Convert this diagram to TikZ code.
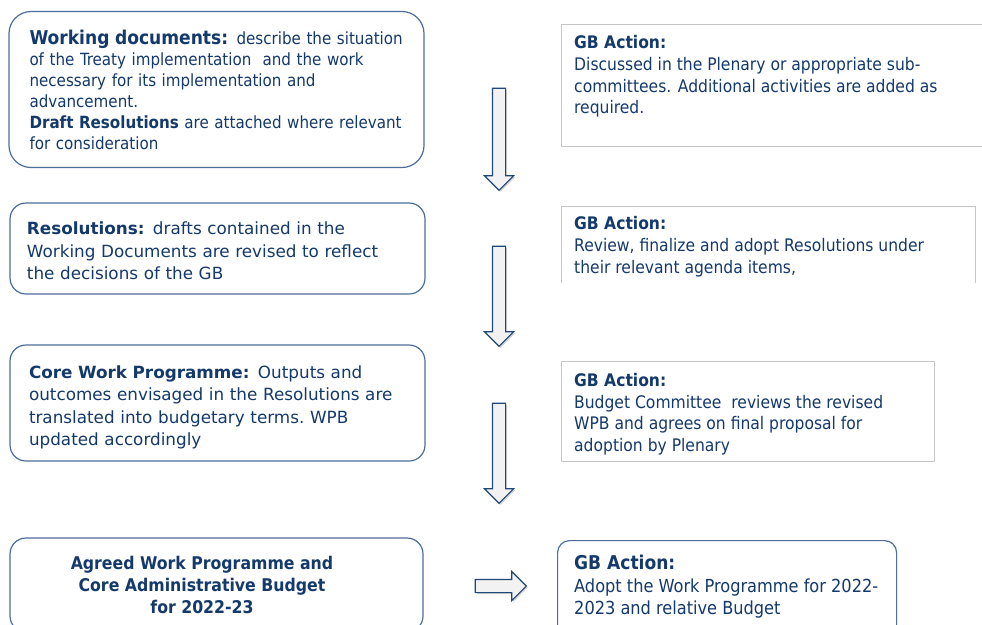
\documentclass[tikz,border=0pt]{standalone}
\usepackage{fontspec}
\setmainfont{DejaVu Sans}
\newfontfamily\condfont{DejaVu Sans Condensed}
\usetikzlibrary{positioning,shapes.arrows,shadows}

\definecolor{txtblue}{HTML}{14396B}
\definecolor{boxblue}{HTML}{4D6E9B}
\definecolor{gbgray}{HTML}{C6C6C6}
\definecolor{arrblue}{HTML}{1F4777}
\definecolor{arrfill}{HTML}{F2F2F2}

\tikzset{
  docbox/.style={draw=boxblue, line width=1.2pt, rounded corners=16pt, text=txtblue,
    align=left, inner xsep=18pt, inner ysep=0pt},
  gbtext/.style={text=txtblue, align=left, inner sep=0pt, anchor=north west,
    font=\condfont\fontsize{17.3}{21.7}\selectfont},
  gbframe/.style={draw=gbgray, line width=0.9pt},
  flowarrow/.style={single arrow, draw=arrblue, fill=arrfill, line width=1.1pt,
    inner sep=6pt, single arrow head extend=8pt, single arrow head indent=0pt,
    drop shadow={shadow xshift=1.5pt, shadow yshift=-1.5pt, opacity=0.35}},
}

\begin{document}
\begin{tikzpicture}[x=1pt,y=-1pt]
\clip (0,0) rectangle (982,624);
\fill[white] (0,0) rectangle (982,624);

% left column
\node[docbox, rounded corners=22pt, minimum width=415pt, minimum height=156pt,
  text width=374pt, inner xsep=20.5pt, font=\condfont\fontsize{16.8}{21}\selectfont] (wdocs) at (216.5,89.5)
  {{\fontsize{19}{21}\selectfont\bfseries Working documents:} describe the situation\\
   of the Treaty implementation\ \ and the work\\
   necessary for its implementation and\\
   advancement.\\
   \textbf{Draft Resolutions} are attached where relevant\\
   for consideration};
\node[docbox, minimum width=415pt, minimum height=91pt, text width=381pt,
  inner xsep=17pt, font=\fontsize{16.8}{22.6}\selectfont] (resol) at (217.5,248.5)
  {\rule{0pt}{18pt}\textbf{Resolutions:} drafts contained in the\\
   Working Documents are revised to reflect\\
   the decisions of the GB};
\node[docbox, minimum width=415pt, minimum height=116pt, text width=377pt,
  inner xsep=19pt, font=\fontsize{16.8}{22.6}\selectfont] (corewp) at (217.5,403)
  {\rule{0pt}{21.5pt}\textbf{Core Work Programme:} Outputs and\\
   outcomes envisaged in the Resolutions are\\
   translated into budgetary terms.\ WPB\\
   updated accordingly};
\node[docbox, minimum width=413pt, minimum height=94pt] (agreed) at (216.5,585) {};
\node[text=txtblue, align=center, xshift=-14.5pt,
  font=\condfont\bfseries\fontsize{17.5}{22}\selectfont] (agreedtxt) at (agreed)
  {Agreed Work Programme and\\
   Core Administrative Budget\\
   for 2022-23};

% right column
\draw[gbframe] (992,24) -- (561,24) -- (561,146) -- (992,146);
\node[gbtext] (gbone) at (574,35.5)
  {\textbf{GB Action:}\\
   Discussed in the Plenary or appropriate sub-\\
   committees. Additional activities are added as\\
   required.};
\draw[gbframe] (561,283) -- (561,206) -- (975,206) -- (975,283);
\node[gbtext] (gbtwo) at (574,216.5)
  {\textbf{GB Action:}\\
   Review, finalize and adopt Resolutions under\\
   their relevant agenda items,};
\draw[gbframe] (561,361) rectangle (934,461);
\node[gbtext] (gbthree) at (574,373)
  {\textbf{GB Action:}\\
   Budget Committee\ \ reviews the revised\\
   WPB and agrees on final proposal for\\
   adoption by Plenary};
\node[docbox, rounded corners=12pt, anchor=north west, minimum width=339pt,
  minimum height=100pt] (gbfour) at (557,540) {};
\node[gbtext, font=\condfont\fontsize{18}{22.5}\selectfont] (gbfourtxt) at (574,555)
  {{\fontsize{19}{22.5}\selectfont\bfseries GB Action:}\\
   Adopt the Work Programme for 2022-\\
   2023 and relative Budget};

% arrows
\node[flowarrow, rotate=-90, minimum height=102pt] (dnone) at (499,136) {};
\node[flowarrow, rotate=-90, minimum height=100pt] (dntwo) at (499,293) {};
\node[flowarrow, rotate=-90, minimum height=100pt] (dnthree) at (499,450) {};
\node[flowarrow, minimum height=51pt] (rtarrow) at (497.5,586) {};
\end{tikzpicture}
\end{document}
